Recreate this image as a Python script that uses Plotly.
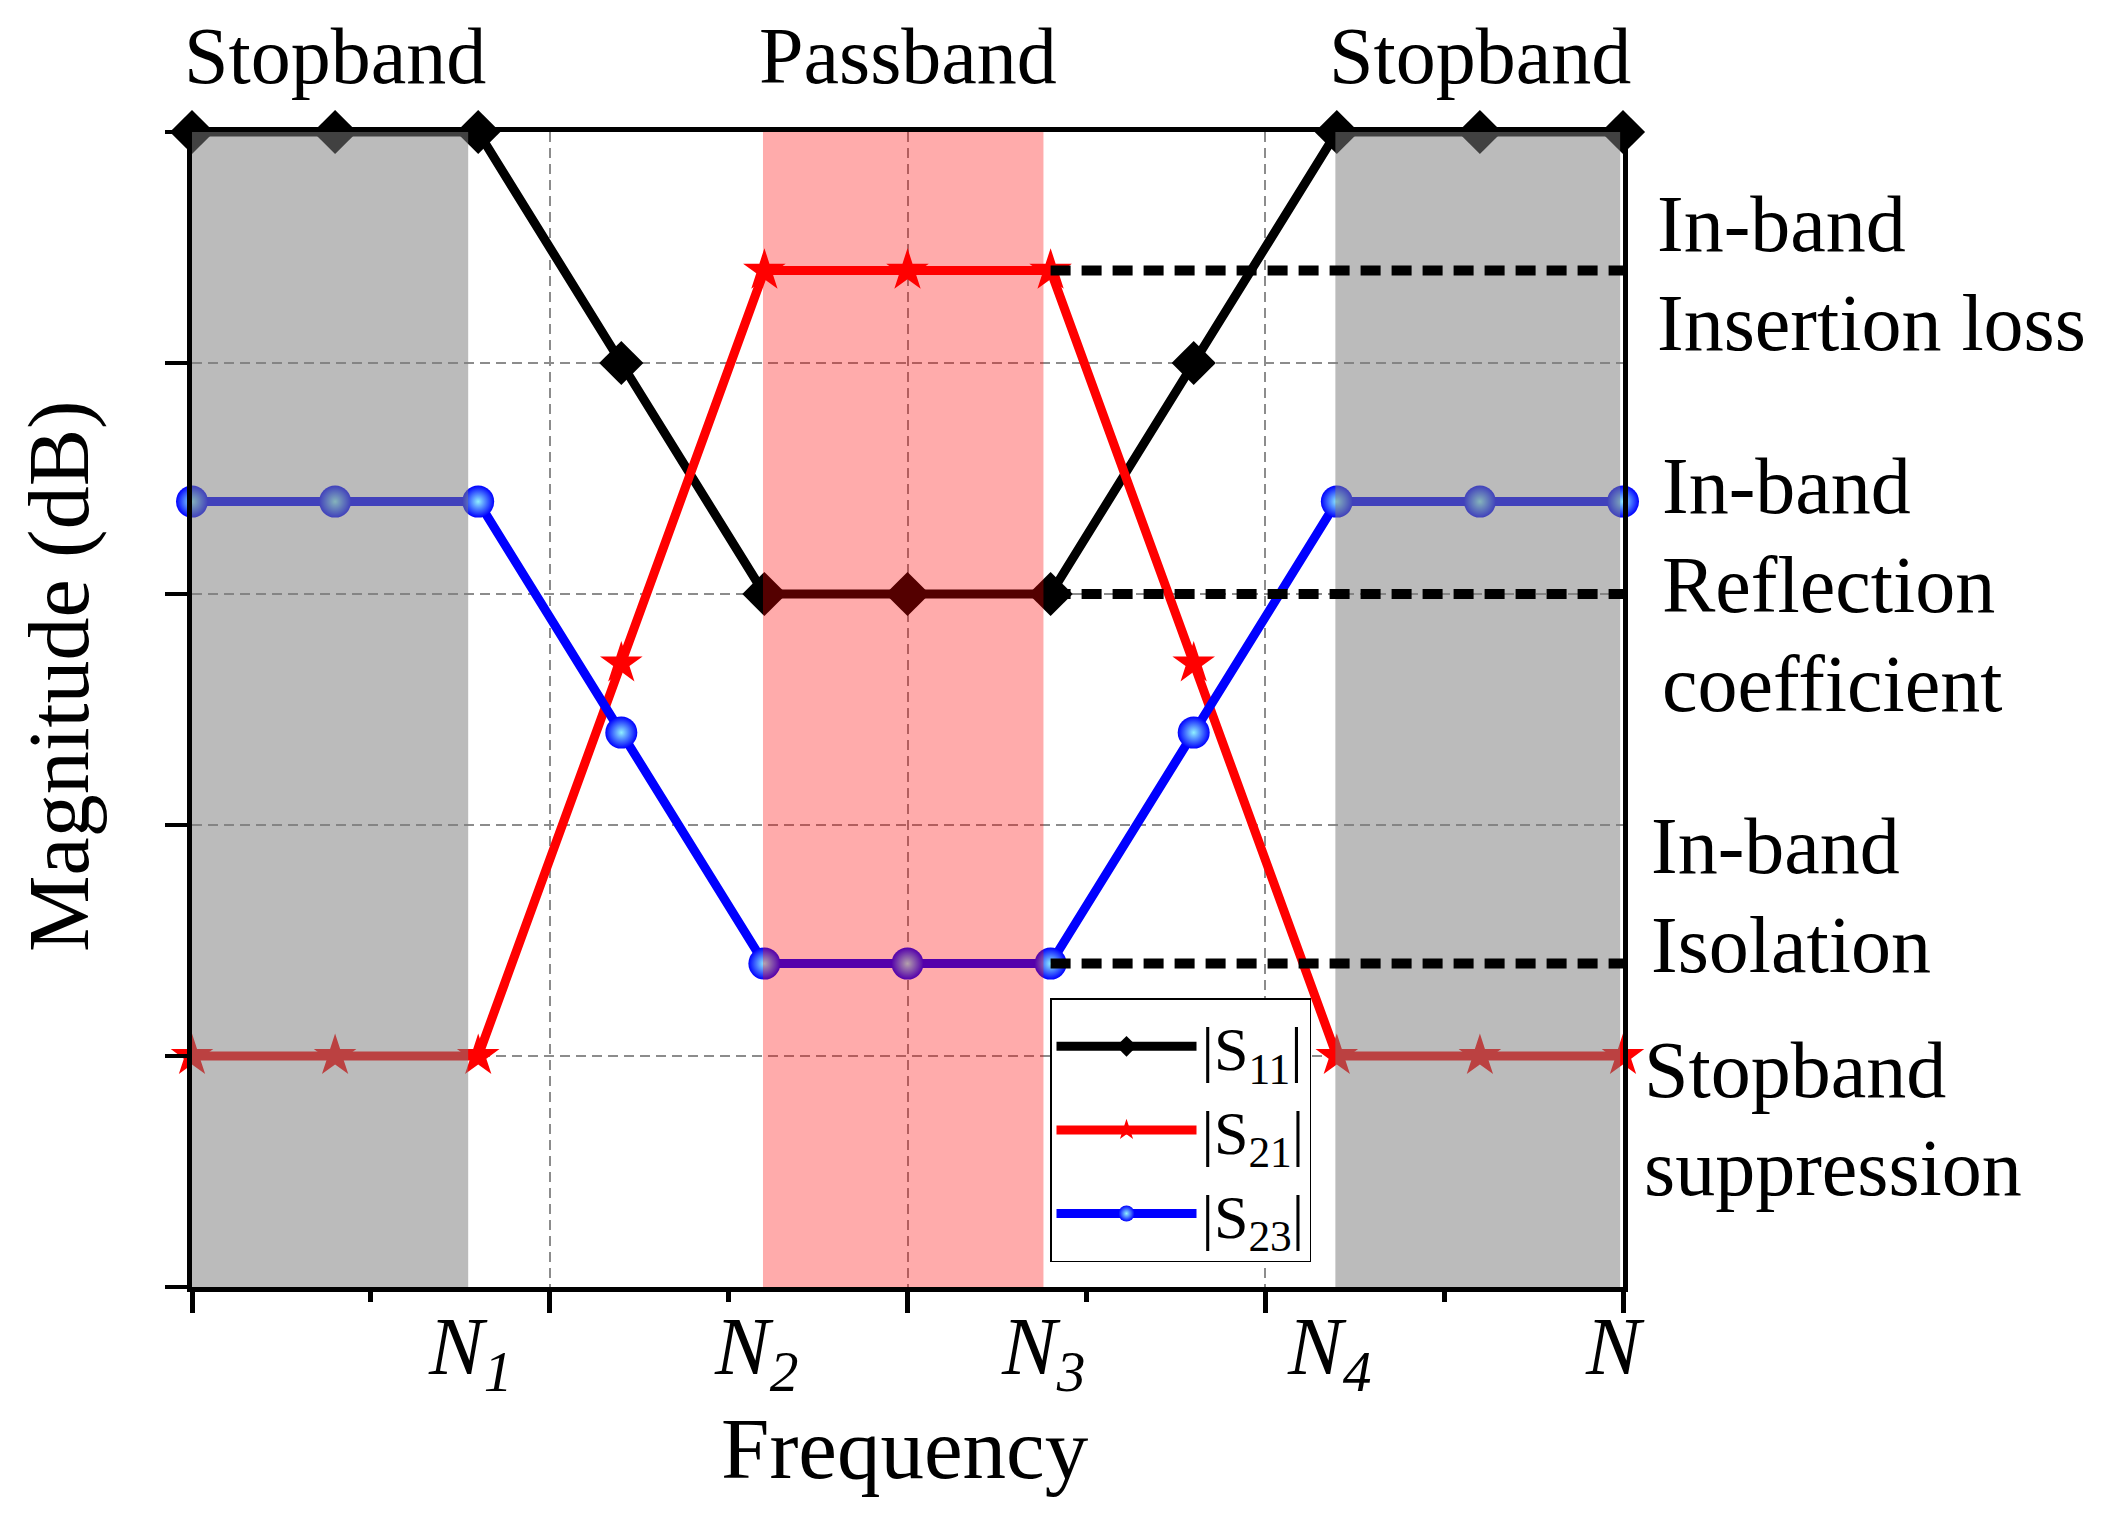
import plotly.graph_objects as go

# ---------------- data ----------------
freq_index = [0, 1, 2, 3, 4, 5, 6, 7, 8, 9, 10]
s11_values = [5, 5, 5, 4, 3, 3, 3, 4, 5, 5, 5]
s21_values = [1, 1, 1, 2.7, 4.4, 4.4, 4.4, 2.7, 1, 1, 1]
s23_values = [3.4, 3.4, 3.4, 2.4, 1.4, 1.4, 1.4, 2.4, 3.4, 3.4, 3.4]

ref_x = [6, 10]                      # N3 -> N reference lines
ref_levels = [4.4, 3, 1.4]           # insertion loss, reflection, isolation

tick_positions = [2, 4, 6, 8, 10]
tick_labels = ["<i>N</i><sub><i>1</i></sub>", "<i>N</i><sub><i>2</i></sub>",
               "<i>N</i><sub><i>3</i></sub>", "<i>N</i><sub><i>4</i></sub>", "<i>N</i>"]

band_names = ["Stopband", "Passband", "Stopband"]
band_centers = [1, 5, 9]
stopband_spans = [(-0.03, 1.93), (7.99, 9.98)]
passband_span = (3.99, 5.95)

side_labels = [
    ["In-band", "Insertion loss"],
    ["In-band", "Reflection", "coefficient"],
    ["In-band", "Isolation"],
    ["Stopband", "suppression"],
]

# ---------------- layout geometry ----------------
# page body has an 8px margin, so the figure is offset by 8px
W, H = 2100, 1507
L, R, T, B = 184, 485, 124, 228
FONT = "Liberation Serif, Times New Roman, serif"
PLOT_LEFT, PLOT_RIGHT, PLOT_TOP, PLOT_BOTTOM = 192, 1623, 132, 1287  # screen px


def px_x(px):
    return (px - PLOT_LEFT) / (PLOT_RIGHT - PLOT_LEFT)


def px_y(py):
    return (PLOT_BOTTOM - py) / (PLOT_BOTTOM - PLOT_TOP)


side_x_px = [1655, 1660, 1649, 1642]
side_y_px = [[224, 323], [486, 585, 684], [846, 945], [1070, 1168]]

fig = go.Figure()

fig.add_trace(go.Scatter(
    x=freq_index, y=s11_values, mode="lines+markers", name="|S<sub>11</sub>|",
    line=dict(color="black", width=9),
    marker=dict(symbol="diamond", size=34, color="black"), cliponaxis=False))
fig.add_trace(go.Scatter(
    x=freq_index, y=s21_values, mode="lines+markers", name="|S<sub>21</sub>|",
    line=dict(color="#ff0000", width=9),
    marker=dict(symbol="star", size=32, color="#ff0000"), cliponaxis=False))
fig.add_trace(go.Scatter(
    x=freq_index, y=s23_values, mode="lines+markers", name="|S<sub>23</sub>|",
    line=dict(color="#0000ff", width=9),
    marker=dict(symbol="circle", size=32, color="#0000ff",
                gradient=dict(type="radial", color="#8ff0ff")), cliponaxis=False))

shapes = []
for x0, x1 in stopband_spans:
    shapes.append(dict(type="rect", xref="x", yref="y", x0=x0, x1=x1, y0=-0.005, y1=5.0,
                       fillcolor="rgb(124,124,124)", opacity=0.52, line=dict(width=0),
                       layer="above"))
shapes.append(dict(type="rect", xref="x", yref="y", x0=passband_span[0], x1=passband_span[1],
                   y0=0, y1=5.0, fillcolor="#ff0000", opacity=0.33, line=dict(width=0),
                   layer="above"))
# dotted reference lines, drawn over the shaded bands
for lv in ref_levels:
    shapes.append(dict(type="line", xref="x", yref="y", x0=ref_x[0], x1=ref_x[1], y0=lv, y1=lv,
                       line=dict(color="black", width=10, dash="20px,11px"), layer="above"))

annotations = []
for name, cx in zip(band_names, band_centers):
    annotations.append(dict(text=name, x=cx, xref="x", y=px_y(56), yref="paper",
                            xanchor="center", yanchor="middle", showarrow=False,
                            font=dict(family=FONT, size=80, color="black")))
for lines, xp, yps in zip(side_labels, side_x_px, side_y_px):
    for txt, yp in zip(lines, yps):
        annotations.append(dict(text=txt, x=px_x(xp), xref="paper", y=px_y(yp), yref="paper",
                                xanchor="left", yanchor="middle", showarrow=False,
                                font=dict(family=FONT, size=80, color="black")))
# frequency tick labels
for tp, tl in zip(tick_positions, tick_labels):
    annotations.append(dict(text=tl, x=tp, xref="x", y=px_y(1299), yref="paper",
                            xanchor="center", yanchor="top", showarrow=False, xshift=-8,
                            font=dict(family=FONT, size=82, color="black")))
annotations.append(dict(text="Frequency", x=px_x(905), xref="paper", y=px_y(1448), yref="paper",
                        xanchor="center", yanchor="middle", showarrow=False,
                        font=dict(family=FONT, size=87, color="black")))
annotations.append(dict(text="Magnitude (dB)", x=px_x(59), xref="paper", y=px_y(676), yref="paper",
                        xanchor="center", yanchor="middle", showarrow=False, textangle=-90,
                        font=dict(family=FONT, size=86, color="black")))

fig.update_layout(
    width=W, height=H,
    margin=dict(l=L, r=R, t=T, b=B, autoexpand=False),
    paper_bgcolor="white", plot_bgcolor="white",
    font=dict(family=FONT, color="black"),
    shapes=shapes, annotations=annotations,
    xaxis=dict(range=[0, 10], showline=True, linecolor="black", linewidth=5, mirror=True,
               ticks="outside", ticklen=21, tickwidth=5, tickcolor="black",
               tick0=0, dtick=2.5, showticklabels=False,
               showgrid=True, gridcolor="#8c8c8c", gridwidth=1.5, griddash="10px,6px",
               zeroline=False,
               minor=dict(ticks="outside", ticklen=10, tickwidth=5, tickcolor="black",
                          tick0=0, dtick=1.25, showgrid=False)),
    yaxis=dict(range=[0, 5], showline=True, linecolor="black", linewidth=5, mirror=True,
               ticks="outside", ticklen=22, tickwidth=4, tickcolor="black",
               tickmode="array", tickvals=[0, 1, 2, 3, 4, 5], showticklabels=False,
               showgrid=True, gridcolor="#8c8c8c", gridwidth=1.5, griddash="10px,6px",
               zeroline=False),
    legend=dict(x=px_x(1050), y=px_y(998), xanchor="left", yanchor="top",
                bgcolor="white", bordercolor="black", borderwidth=1.5,
                font=dict(family=FONT, size=62, color="black"),
                itemwidth=140, tracegroupgap=0),
    showlegend=True,
)

fig.write_html("out.html")
